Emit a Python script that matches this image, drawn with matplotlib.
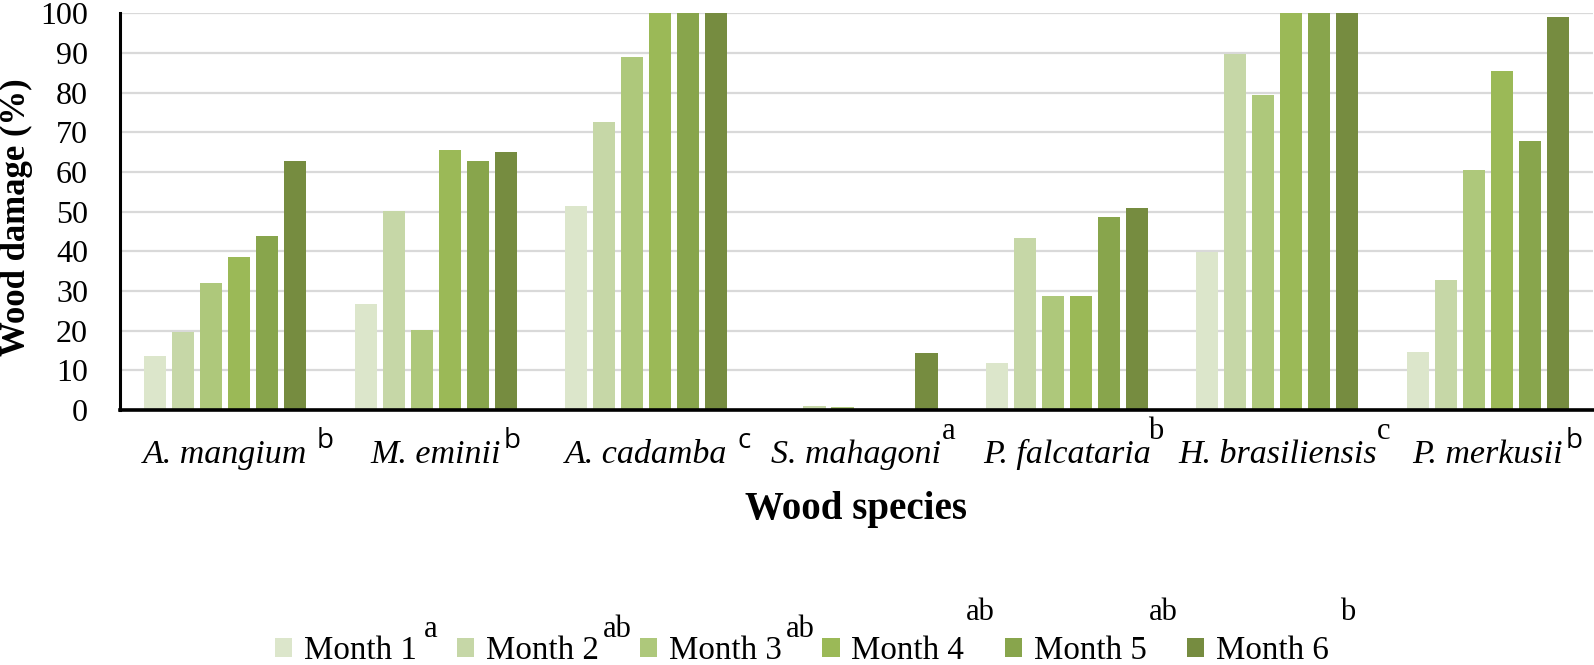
import numpy as np
import matplotlib
matplotlib.use("Agg")
import matplotlib.pyplot as plt
import matplotlib.transforms as mtransforms

# ===========================================
# DATI
# ===========================================
species = ["A. mangium", "M. eminii", "A. cadamba", "S. mahagoni",
           "P. falcataria", "H. brasiliensis", "P. merkusii"]
species_letters = ["b", "b", "c", "a", "b", "c", "b"]

months = ["Month 1", "Month 2", "Month 3", "Month 4", "Month 5", "Month 6"]
month_letters = ["a", "ab", "ab", "ab", "ab", "b"]

month1 = [13.6, 26.7, 51.4, 0.0, 11.8, 39.9, 14.7]
month2 = [19.7, 50.2, 72.6, 1.0, 43.3, 89.8, 32.7]
month3 = [31.9, 20.2, 89.0, 0.8, 28.8, 79.3, 60.4]
month4 = [38.6, 65.6, 100.0, 0.0, 28.7, 100.0, 85.5]
month5 = [43.8, 62.7, 100.0, 0.0, 48.6, 100.0, 67.7]
month6 = [62.8, 65.0, 100.0, 14.4, 50.8, 100.0, 99.0]

colors = ["#dce6cb", "#c6d7a7", "#aec87b", "#9bb957", "#88a54c", "#768c40"]

serif = "Liberation Serif"
plt.rcParams['font.family'] = [serif, 'DejaVu Serif']

# ===========================================
# FIGURA
# ===========================================
W, H = 1594, 665
fig = plt.figure(figsize=(W / 100, H / 100), dpi=100)
ax = fig.add_axes([120 / W, 1 - 410 / H, (1593 - 120) / W, (410 - 13.3) / H])

series = [month1, month2, month3, month4, month5, month6]
x = np.arange(len(species))
step = 0.133
bw = 0.105
for j, vals in enumerate(series):
    ax.bar(x + (j - 2.5) * step, vals, width=bw, color=colors[j],
           label=months[j], zorder=3)

ax.set_xlim(-0.5, len(species) - 0.5)
ax.set_ylim(0, 100)
ax.set_yticks(np.arange(0, 101, 10))
ax.yaxis.grid(True, color="#d9d9d9", linewidth=1.6, zorder=0)
ax.set_axisbelow(True)
for s in ["top", "right"]:
    ax.spines[s].set_visible(False)
ax.spines["left"].set_linewidth(2.2)
ax.spines["bottom"].set_linewidth(2.6)
ax.spines["bottom"].set_zorder(4)
ax.tick_params(axis="y", length=0, pad=23, labelsize=23)
ax.tick_params(axis="x", length=0)
ax.set_xticks(x)
ax.set_xticklabels([])

ax.set_ylabel("Wood damage (%)", fontsize=25, fontweight="bold")
ax.yaxis.set_label_coords(-0.059, 0.487)
ax.set_xlabel("Wood species", fontsize=28, fontweight="bold")
ax.xaxis.set_label_coords(0.5, -0.205)

# nomi delle specie con lettere in apice
trans = mtransforms.blended_transform_factory(ax.transData, ax.transAxes)
high = [False, False, False, True, True, True, False]
sup_dx = [9, 3, 10, 0, -3, 0, 3]
for i, (name, let) in enumerate(zip(species, species_letters)):
    t = ax.text(i, -0.134, name, transform=trans, ha="center",
                va="baseline", fontsize=24.5, style="italic")
    if high[i]:
        ax.annotate(let, xy=(1, -0.134), xycoords=(t, "axes fraction"),
                    xytext=(sup_dx[i], 24), textcoords="offset pixels",
                    va="baseline", ha="left", fontsize=22)
    else:
        ax.annotate(let, xy=(1, -0.134), xycoords=(t, "axes fraction"),
                    xytext=(sup_dx[i], 15), textcoords="offset pixels",
                    va="baseline", ha="left", fontsize=20,
                    family=["Open Sans", "DejaVu Sans"])

# legenda
leg = fig.legend(loc="center left", bbox_to_anchor=(275 / W, 0.021),
                 ncol=6, frameon=False, fontsize=23.8, handlelength=0.515,
                 handleheight=0.515, handletextpad=0.35, columnspacing=1.24,
                 borderpad=0, borderaxespad=0)

fig.canvas.draw()
leg_dx = [7.5, 4, 4, 2, 2, 11]
leg_dy = [22, 22, 22, 39, 39, 39]
for t, let, dx, dy in zip(leg.get_texts(), month_letters, leg_dx, leg_dy):
    bb = t.get_window_extent()
    # bb.y0 include la discesa del testo ("lp")
    desc = 0.216 * 23.8 * 100 / 72
    fig.text((bb.x1 + dx) / W, (bb.y0 + desc + dy) / H, let, fontsize=22,
             va="baseline", ha="left")

fig.savefig("out.png", dpi=100)
